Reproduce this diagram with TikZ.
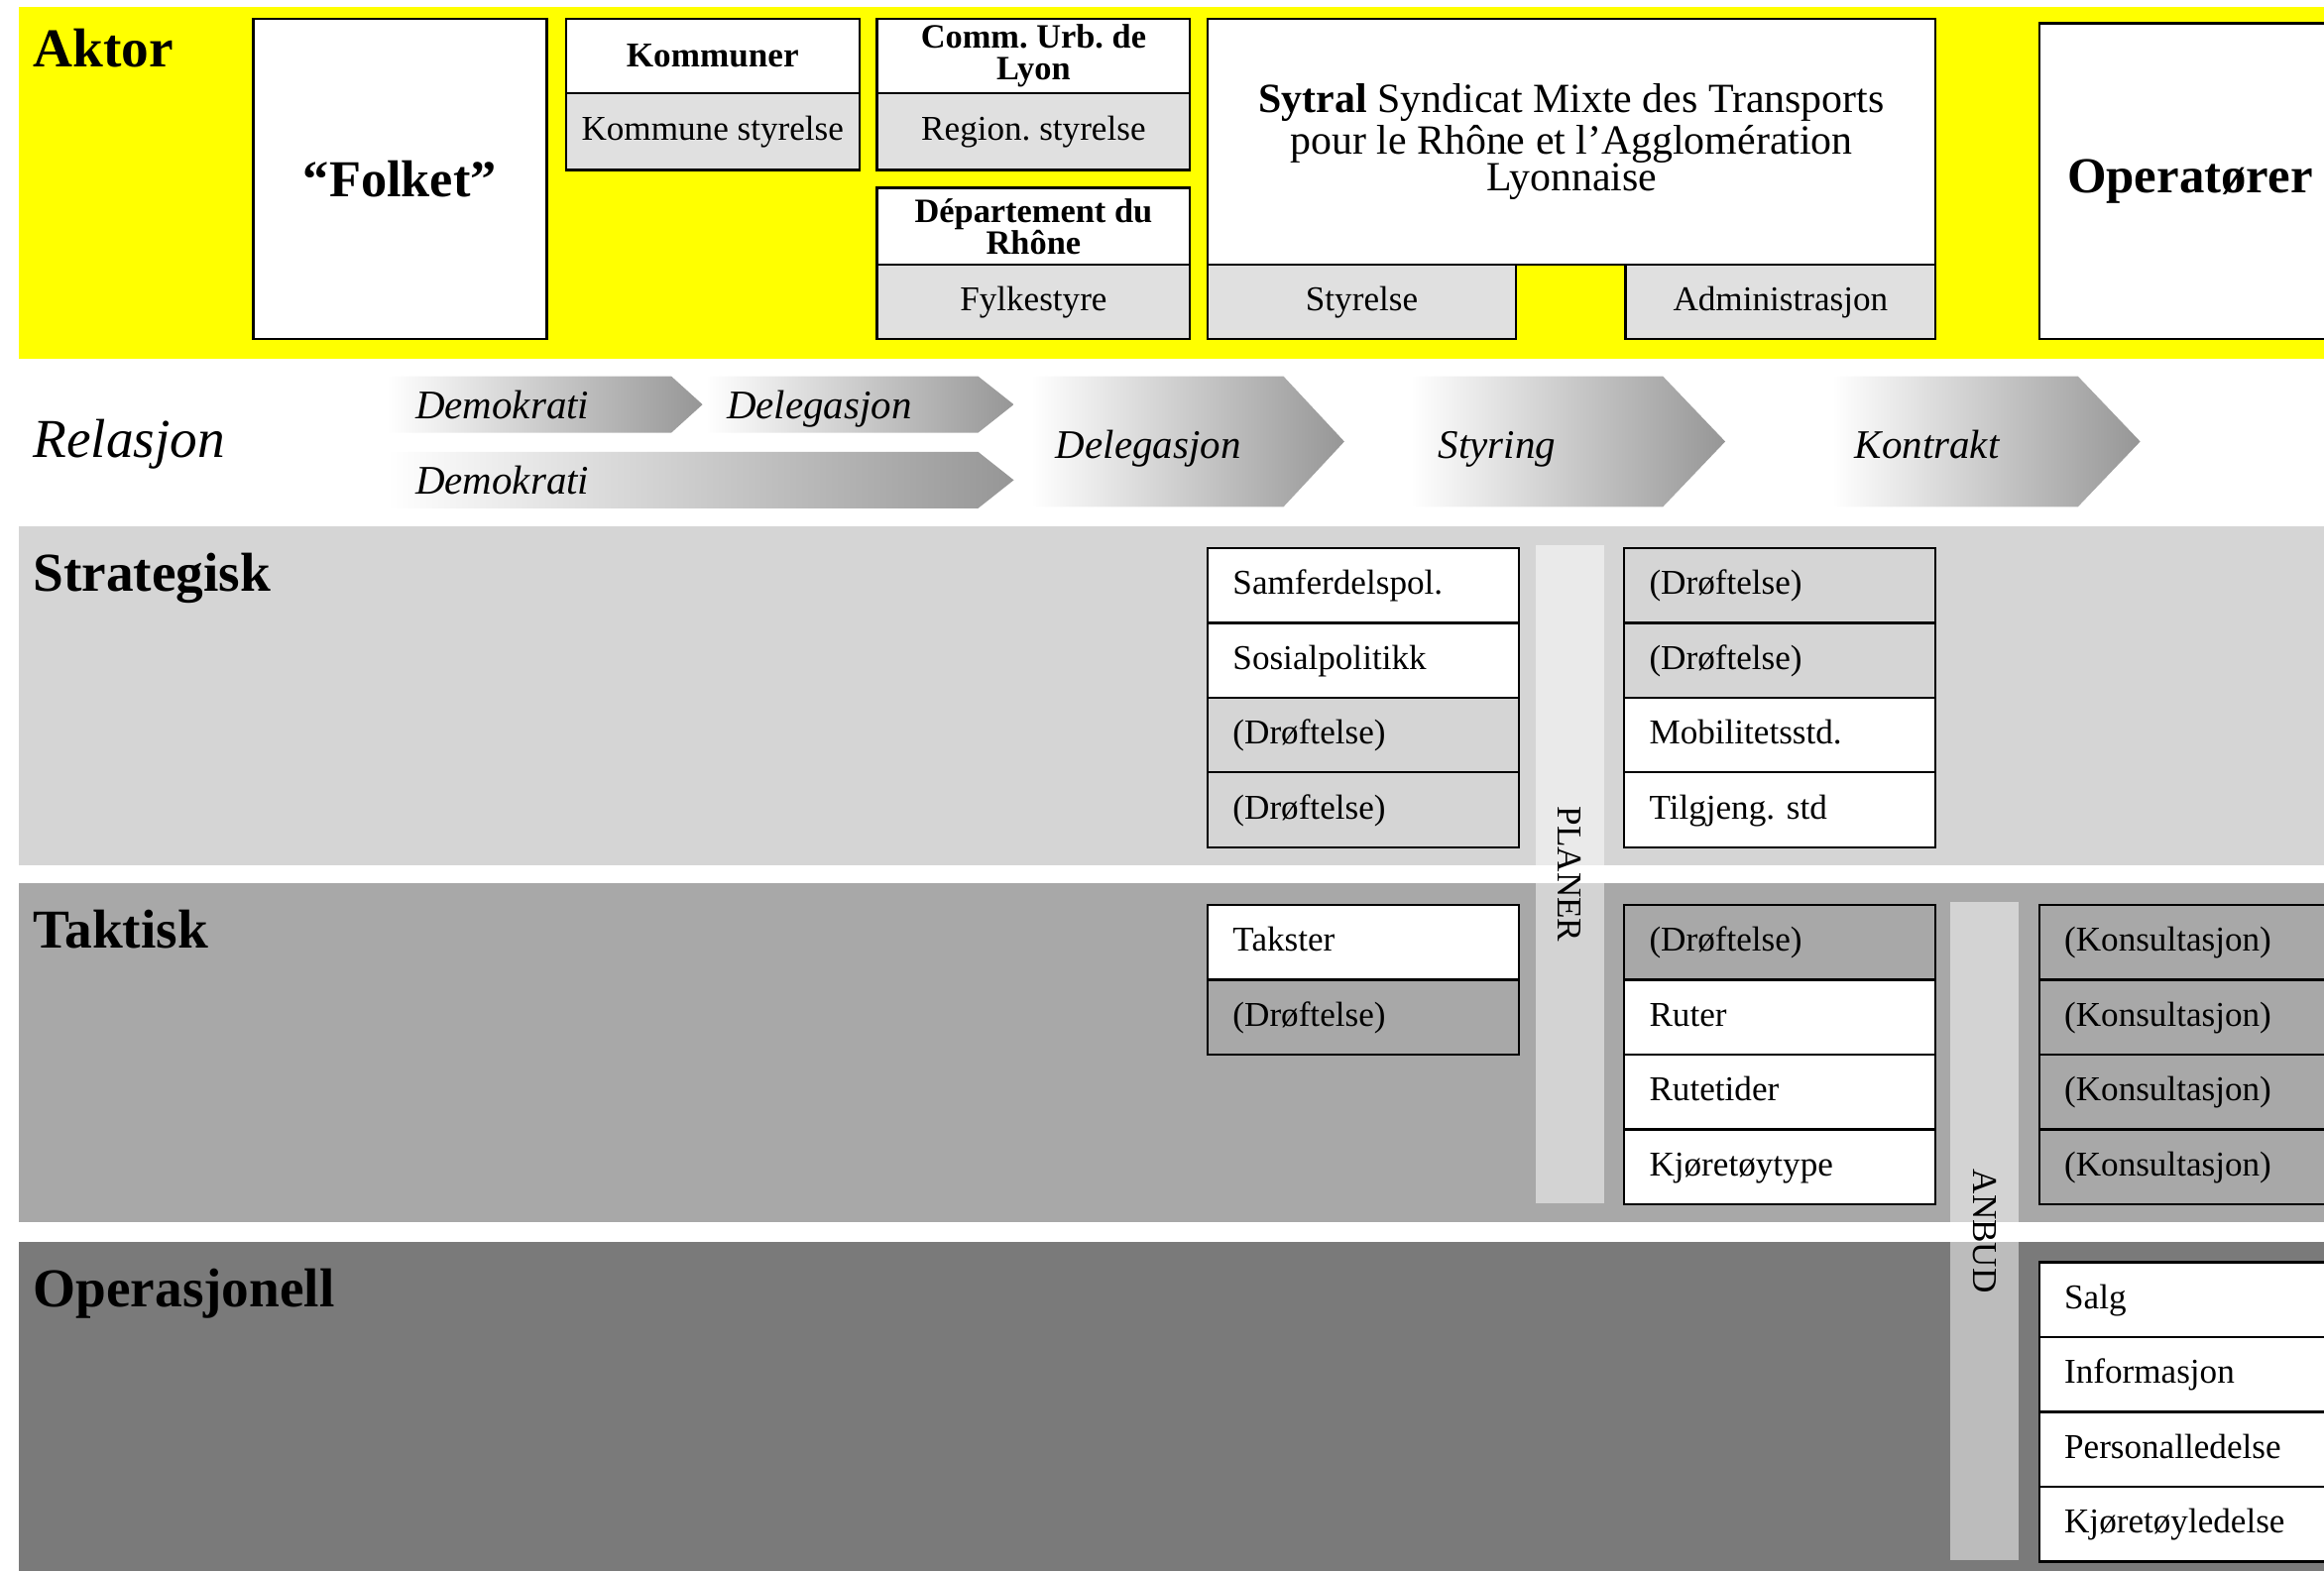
\documentclass[tikz,border=0pt]{standalone}
\usepackage{fontspec}
\setmainfont{Liberation Serif}
\frenchspacing
\definecolor{aktorY}{RGB}{255,255,0}
\definecolor{akGray}{RGB}{224,224,224}
\definecolor{strat}{RGB}{213,213,213}
\definecolor{takt}{RGB}{168,168,168}
\definecolor{oper}{RGB}{122,122,122}
\definecolor{chevR}{RGB}{150,150,150}
\newcommand{\fbase}{\fontsize{11.75}{13}\selectfont}
\newcommand{\ftight}{\fontsize{11.5}{10.6}\selectfont}
\newcommand{\fhead}{\fontsize{18.5}{20}\selectfont}
\newcommand{\fchev}{\fontsize{13.7}{15}\selectfont}
\newcommand{\fsyt}{\fontsize{14}{12.5}\selectfont}
\tikzset{
  lab/.style={anchor=base west, inner sep=0, font=\fhead\bfseries},
  abox/.style={draw=black, line width=0.8pt, anchor=north west, inner sep=0, align=center, font=\fbase},
  cell/.style={draw=black, line width=0.8pt, anchor=north west, inner xsep=8.5pt, inner ysep=0, minimum height=25.25pt, text height=8.6pt, text depth=2.6pt, text width=88pt, align=left, font=\fbase},
  stripbox/.style={fill=white, fill opacity=0.5, text opacity=1, inner sep=0, minimum width=222pt, minimum height=23pt, rotate=-90, font=\fbase},
  chevtext/.style={anchor=west, inner sep=0, text height=9.6pt, text depth=3pt, font=\fchev\itshape},
  chev/.style={left color=white, right color=chevR},
}
\begin{document}
\begin{tikzpicture}[x=0.5pt,y=-0.5pt]
\useasboundingbox (0,0) rectangle (1568,1060);
\clip (0,0) rectangle (1568,1060);
% bands
\fill[aktorY] (13,5) rectangle (1568,242);
\fill[strat] (13,355) rectangle (1568,584);
\fill[takt] (13,596) rectangle (1568,825);
\fill[oper] (13,838) rectangle (1568,1060);
% band labels
\node[lab] (laktor) at (22,45) {Aktor};
\node[anchor=base west, inner sep=0, font=\fhead\itshape] (lrel) at (22,309) {Relasjon};
\node[lab] (lstrat) at (22,399) {Strategisk};
\node[lab] (ltakt) at (22,640) {Taktisk};
\node[lab] (loper) at (22,882) {Operasjonell};
% Aktor boxes
\node[abox, fill=white, minimum width=99pt, minimum height=108pt, font=\fontsize{17.5}{19}\selectfont\bfseries] (folket) at (170,12) {“Folket”};
\node[abox, fill=white, minimum width=99pt, minimum height=25pt, font=\fbase\bfseries] (komm) at (381,12) {Kommuner};
\node[abox, fill=akGray, minimum width=99pt, minimum height=26pt] (kstyr) at (381,62) {Kommune styrelse};
\node[abox, fill=white, minimum width=105.5pt, minimum height=25pt, font=\ftight\bfseries] (curb) at (591,12) {Comm. Urb. de\\Lyon};
\node[abox, fill=akGray, minimum width=105.5pt, minimum height=26pt] (rstyr) at (591,62) {Region. styrelse};
\node[abox, fill=white, minimum width=105.5pt, minimum height=26pt, font=\ftight\bfseries] (dept) at (591,126) {Département du\\Rhône};
\node[abox, fill=akGray, minimum width=105.5pt, minimum height=25pt] (fylke) at (591,178) {Fylkestyre};
\node[abox, fill=white, minimum width=245.5pt, minimum height=83pt, font=\fsyt] (sytral) at (814,12) {\textbf{Sytral} Syndicat Mixte des Transports\\pour le Rhône et l’Agglomération\\Lyonnaise};
\node[abox, fill=akGray, minimum width=104pt, minimum height=25pt] (styr) at (814,178) {Styrelse};
\node[abox, fill=akGray, minimum width=104.5pt, minimum height=25pt] (adm) at (1096,178) {Administrasjon};
\node[abox, fill=white, minimum height=106.5pt, text width=95pt, inner xsep=9.5pt, align=left, font=\fontsize{17}{19}\selectfont\bfseries] (operat) at (1375,15) {Operatører};
% Relasjon chevrons
\shade[chev] (261,254) -- (453,254) -- (474,273) -- (453,292) -- (261,292) -- cycle;
\shade[chev] (476,254) -- (660,254) -- (684,273) -- (660,292) -- (476,292) -- cycle;
\shade[chev] (261,305) -- (660,305) -- (684,324) -- (660,343) -- (261,343) -- cycle;
\shade[chev] (696,254) -- (866,254) -- (907,298) -- (866,342) -- (696,342) -- cycle;
\shade[chev] (952,254) -- (1122,254) -- (1164,298) -- (1122,342) -- (952,342) -- cycle;
\shade[chev] (1236,254) -- (1402,254) -- (1444,298) -- (1402,342) -- (1236,342) -- cycle;
\node[chevtext] (cdem1) at (280,276) {Demokrati};
\node[chevtext] (cdel1) at (490,276) {Delegasjon};
\node[chevtext] (cdem2) at (280,327) {Demokrati};
\node[chevtext] (cdel2) at (712,303) {Delegasjon};
\node[chevtext] (cstyr) at (970,303) {Styring};
\node[chevtext] (ckont) at (1251,303) {Kontrakt};
% Strategisk cells
\node[cell, fill=white] (sa1) at (814,369) {Samferdelspol.};
\node[cell, fill=white] (sa2) at (814,419.5) {Sosialpolitikk};
\node[cell, fill=strat] (sa3) at (814,470) {(Drøftelse)};
\node[cell, fill=strat] (sa4) at (814,520.5) {(Drøftelse)};
\node[cell, fill=strat] (sb1) at (1095,369) {(Drøftelse)};
\node[cell, fill=strat] (sb2) at (1095,419.5) {(Drøftelse)};
\node[cell, fill=white] (sb3) at (1095,470) {Mobilitetsstd.};
\node[cell, fill=white] (sb4) at (1095,520.5) {Tilgjeng. std};
% Taktisk cells
\node[cell, fill=white] (ta1) at (814,610) {Takster};
\node[cell, fill=takt] (ta2) at (814,660.5) {(Drøftelse)};
\node[cell, fill=takt] (tb1) at (1095,610) {(Drøftelse)};
\node[cell, fill=white] (tb2) at (1095,660.5) {Ruter};
\node[cell, fill=white] (tb3) at (1095,711) {Rutetider};
\node[cell, fill=white] (tb4) at (1095,761.5) {Kjøretøytype};
\node[cell, fill=takt] (tc1) at (1375,610) {(Konsultasjon)};
\node[cell, fill=takt] (tc2) at (1375,660.5) {(Konsultasjon)};
\node[cell, fill=takt] (tc3) at (1375,711) {(Konsultasjon)};
\node[cell, fill=takt] (tc4) at (1375,761.5) {(Konsultasjon)};
% Operasjonell cells
\node[cell, fill=white] (oc1) at (1375,851) {Salg};
\node[cell, fill=white] (oc2) at (1375,901.5) {Informasjon};
\node[cell, fill=white] (oc3) at (1375,952) {Personalledelse};
\node[cell, fill=white] (oc4) at (1375,1002.5) {Kjøretøyledelse};
% strips
\node[stripbox] (planer) at (1059,590) {PLANER};
\node[stripbox] (anbud) at (1339,831) {ANBUD};
\end{tikzpicture}
\end{document}
